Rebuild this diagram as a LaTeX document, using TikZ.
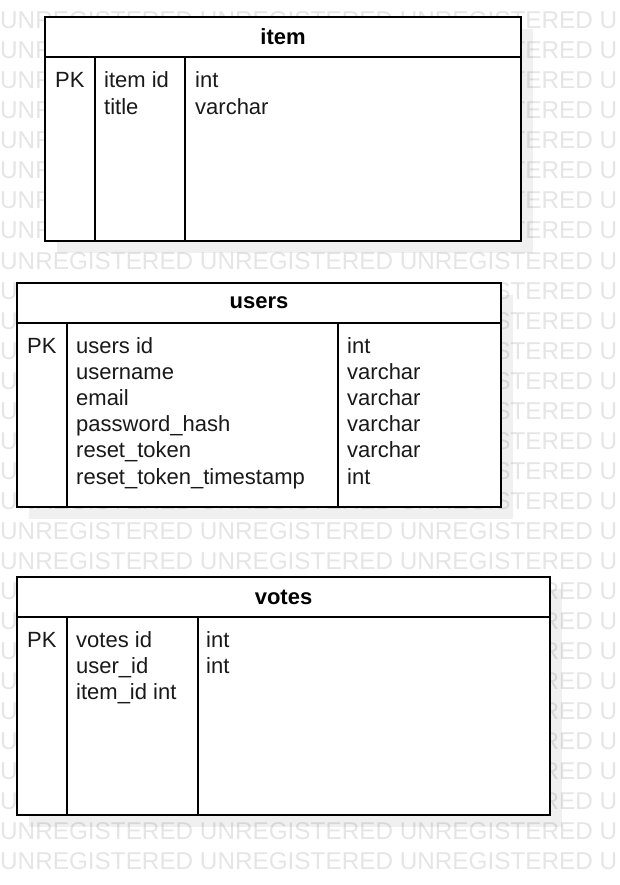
\documentclass[tikz,border=0pt]{standalone}
\usepackage{fontspec}
\setmainfont{Liberation Sans}
\usetikzlibrary{calc}

\tikzset{
  tbl/.style={draw=black, line width=1.5pt, fill=white},
  rule/.style={draw=black, line width=1.5pt},
  shadowbox/.style={fill=black, opacity=0.06},
  fld/.style={anchor=base west, inner sep=0pt, text=black!90, font=\fontsize{22}{26}\selectfont},
  ttl/.style={inner sep=0pt, font=\bfseries\fontsize{22}{26}\selectfont},
  wm/.style={anchor=base west, inner sep=0pt, text=black!10, font=\fontsize{24.3}{26}\selectfont}
}

\begin{document}
\begin{tikzpicture}[x=1pt,y=-1pt]
\useasboundingbox (0,0) rectangle (619,885);

% watermark
\foreach \r in {0,...,28} {
  \node[wm] (wm\r) at (0,29+30*\r) {UNREGISTERED UNREGISTERED UNREGISTERED U};
}

% item
\coordinate (iA) at (45,17); \coordinate (iB) at (521,241);
\coordinate (iH) at (45,57); \coordinate (iC1) at (95,57); \coordinate (iC2) at (185,57);
\fill[shadowbox] ($(iA)+(12,12)$) rectangle ($(iB)+(12,12)$);
\draw[tbl] (iA) rectangle (iB);
\draw[rule] (iH) -- (iH -| iB);
\draw[rule] (iC1) -- (iC1 |- iB);
\draw[rule] (iC2) -- (iC2 |- iB);
\node[ttl] (itemttl) at (283,37) {item};
\node[fld] (itempk) at (55,88) {PK};
\foreach \t [count=\k from 0] in {item id, title}
  \node[fld] (itemN\k) at (104,88+26.2*\k) {\t};
\foreach \t [count=\k from 0] in {int, varchar}
  \node[fld] (itemT\k) at (195,88+26.2*\k) {\t};

% users
\coordinate (uA) at (17,283); \coordinate (uB) at (501,507);
\coordinate (uH) at (17,323); \coordinate (uC1) at (67,323); \coordinate (uC2) at (338,323);
\fill[shadowbox] ($(uA)+(12,12)$) rectangle ($(uB)+(12,12)$);
\draw[tbl] (uA) rectangle (uB);
\draw[rule] (uH) -- (uH -| uB);
\draw[rule] (uC1) -- (uC1 |- uB);
\draw[rule] (uC2) -- (uC2 |- uB);
\node[ttl] (usersttl) at (259,303) {users};
\node[fld] (userspk) at (27,353) {PK};
\foreach \t [count=\k from 0] in {users id, username, email, password\_hash, reset\_token, reset\_token\_timestamp}
  \node[fld] (usersN\k) at (76,353+26.2*\k) {\t};
\foreach \t [count=\k from 0] in {int, varchar, varchar, varchar, varchar, int}
  \node[fld] (usersT\k) at (347,353+26.2*\k) {\t};

% votes
\coordinate (vA) at (17,577); \coordinate (vB) at (550,815);
\coordinate (vH) at (17,617); \coordinate (vC1) at (67,617); \coordinate (vC2) at (198,617);
\fill[shadowbox] ($(vA)+(12,12)$) rectangle ($(vB)+(12,12)$);
\draw[tbl] (vA) rectangle (vB);
\draw[rule] (vH) -- (vH -| vB);
\draw[rule] (vC1) -- (vC1 |- vB);
\draw[rule] (vC2) -- (vC2 |- vB);
\node[ttl] (votesttl) at (283.5,597) {votes};
\node[fld] (votespk) at (27,647) {PK};
\foreach \t [count=\k from 0] in {votes id, user\_id, item\_id int}
  \node[fld] (votesN\k) at (76,647+26.2*\k) {\t};
\foreach \t [count=\k from 0] in {int, int}
  \node[fld] (votesT\k) at (206,647+26.2*\k) {\t};
\end{tikzpicture}
\end{document}
